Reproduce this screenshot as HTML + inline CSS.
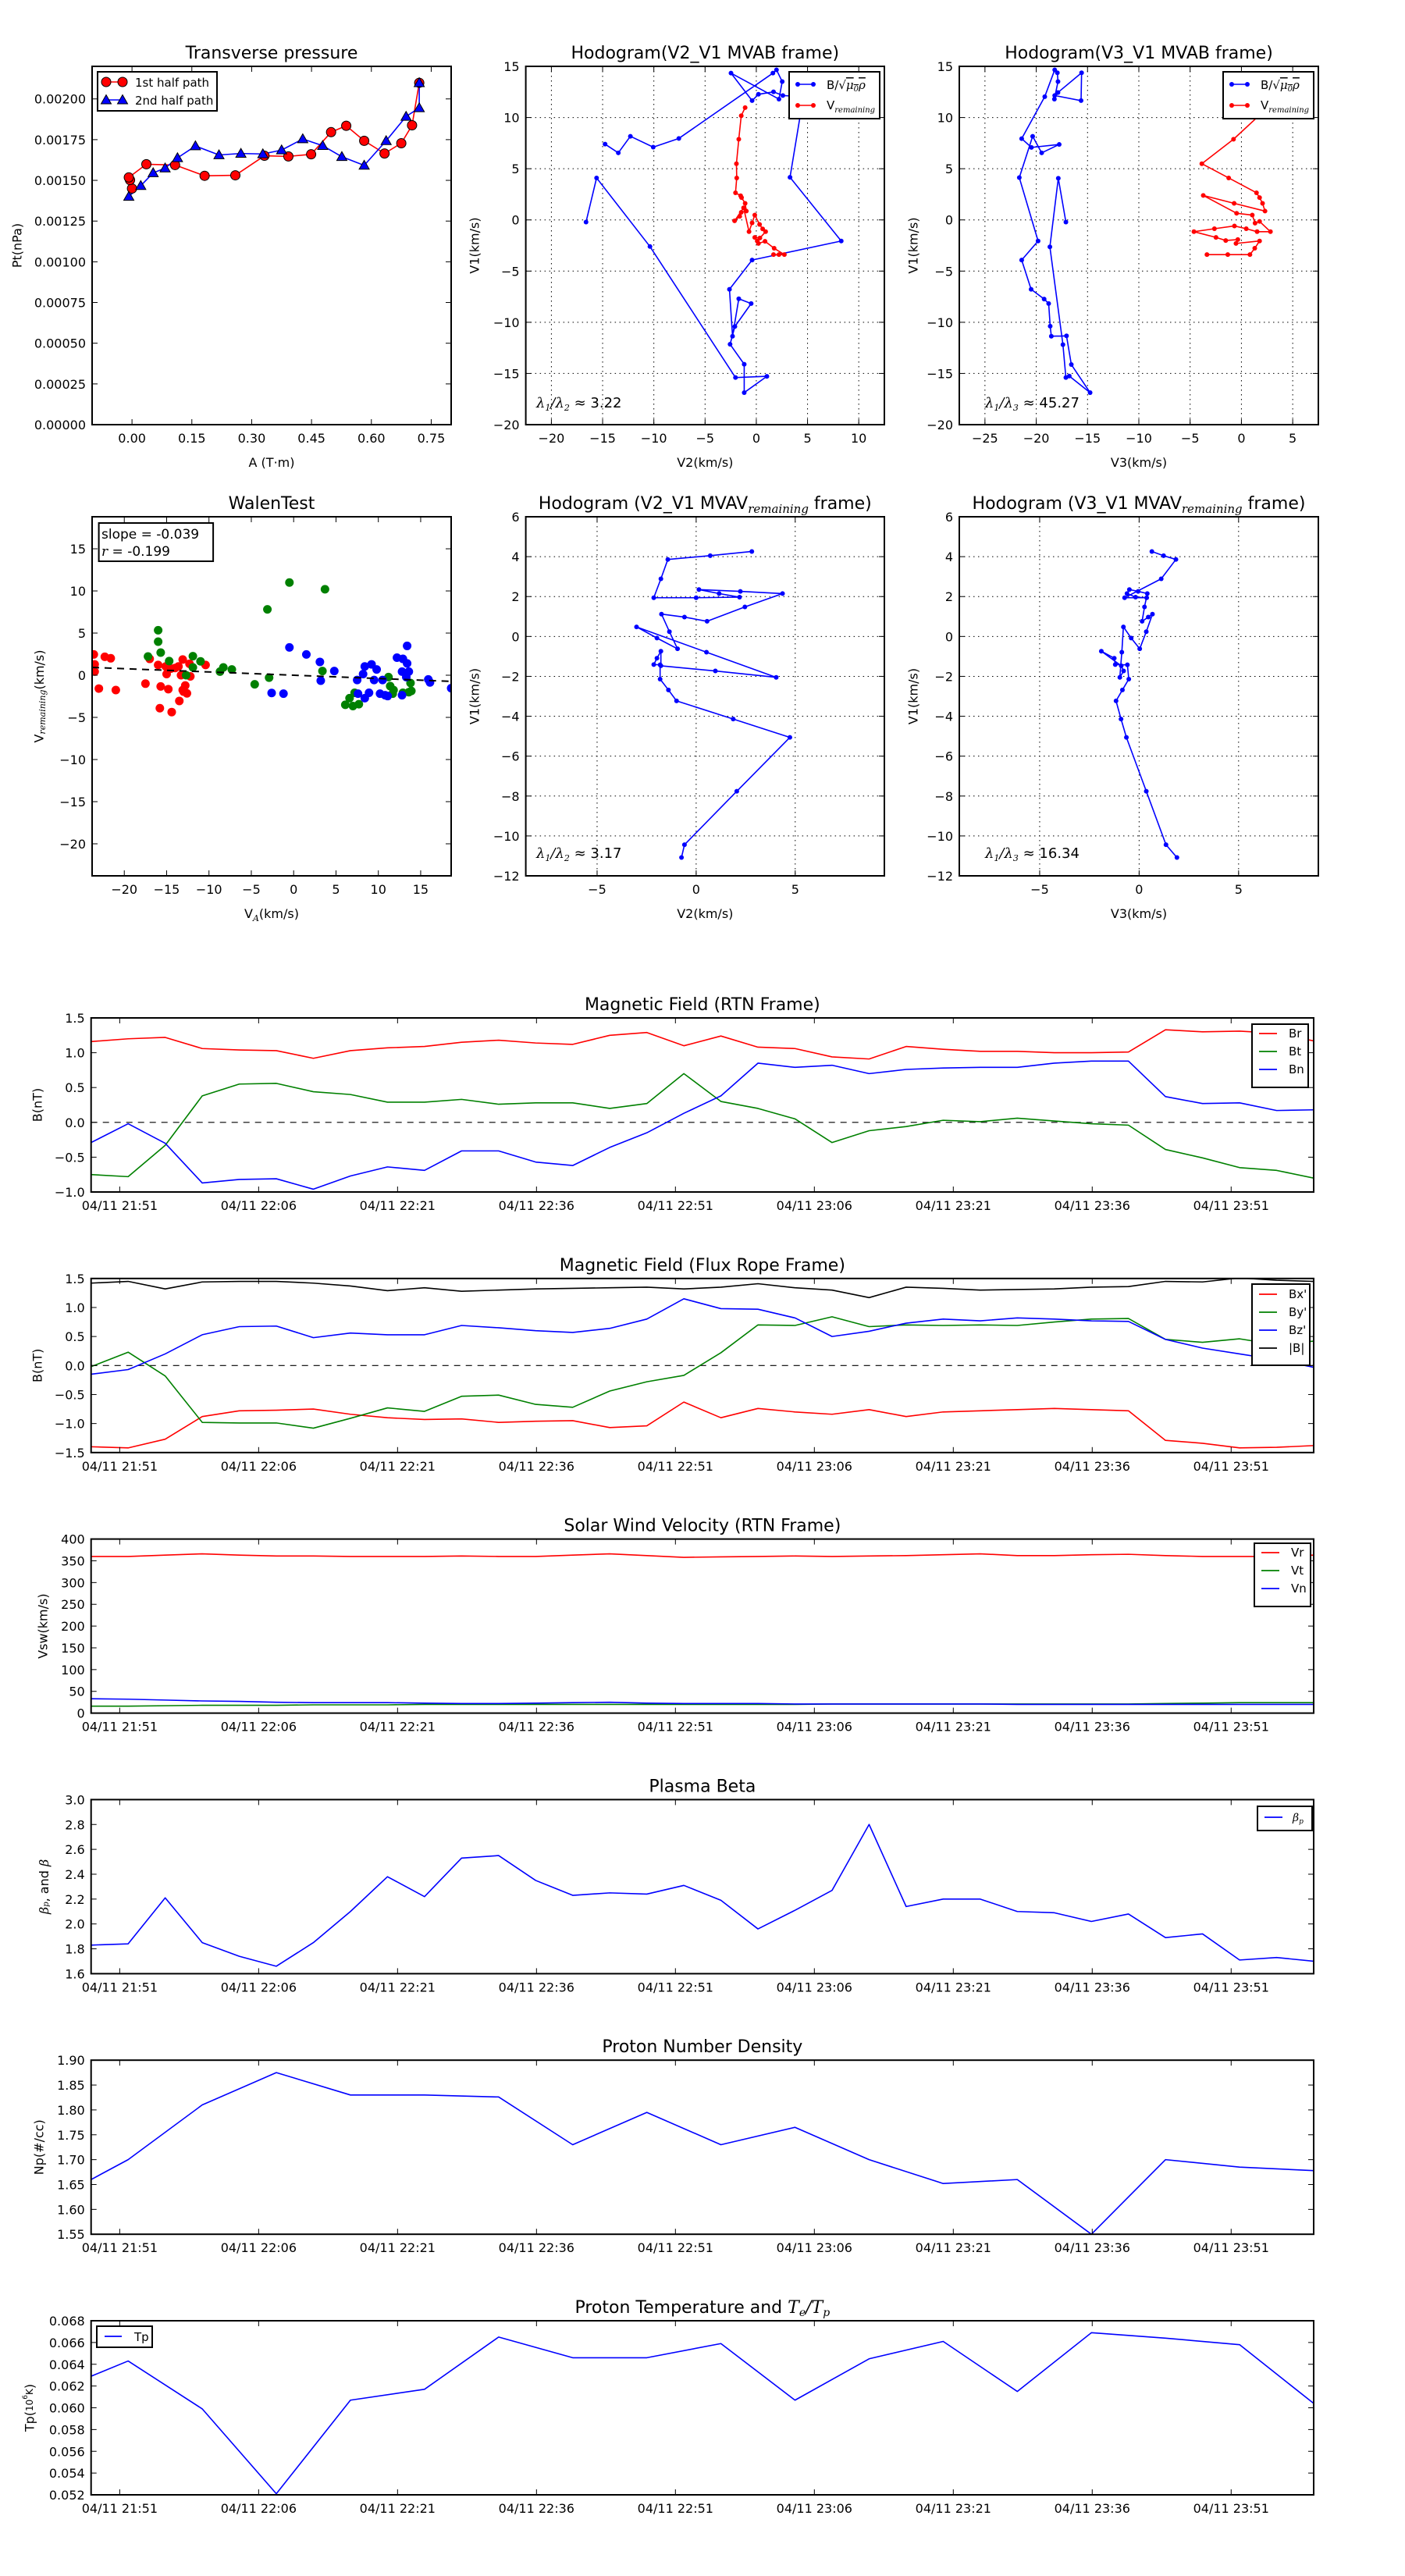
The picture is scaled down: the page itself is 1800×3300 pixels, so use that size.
<!DOCTYPE html>
<html>
<head>
<meta charset="utf-8">
<title>Flux rope analysis figure</title>
<style>
html,body{margin:0;padding:0;background:#fff;}
svg{display:block;font-family:"DejaVu Sans","Liberation Sans",sans-serif;}
.m{font-family:"DejaVu Serif","Liberation Serif",serif;font-style:italic;}
</style>
</head>
<body>
<svg id="fig" xmlns="http://www.w3.org/2000/svg" width="1800" height="3300" viewBox="0 0 1800 3300">
<rect x="0" y="0" width="1800" height="3300" fill="#fff"/>
</svg>
<script>
// ---------------- DATA ----------------
// Transverse pressure
const tpA1 = [0.000,-0.005,-0.008,0.036,0.108,0.182,0.259,0.332,0.392,0.449,0.499,0.537,0.582,0.633,0.675,0.702,0.720];
const tpP1 = [0.001450,0.001502,0.001518,0.001599,0.001594,0.001528,0.001531,0.001651,0.001647,0.001660,0.001796,0.001835,0.001743,0.001665,0.001728,0.001838,0.002099];
const tpA2 = [-0.008,0.022,0.053,0.083,0.114,0.159,0.218,0.273,0.328,0.375,0.428,0.478,0.526,0.582,0.637,0.687,0.720,0.720];
const tpP2 = [0.001401,0.001467,0.001546,0.001575,0.001638,0.001711,0.001656,0.001665,0.001662,0.001686,0.001754,0.001713,0.001645,0.001592,0.001743,0.001892,0.001945,0.002099];
const tpXTicks = [0,0.15,0.30,0.45,0.60,0.75];
const tpXLabels = ["0.00","0.15","0.30","0.45","0.60","0.75"];
const tpYTicks = [0,0.00025,0.0005,0.00075,0.001,0.00125,0.0015,0.00175,0.002];
const tpYLabels = ["0.00000","0.00025","0.00050","0.00075","0.00100","0.00125","0.00150","0.00175","0.00200"];

// Hodogram V2-V1 MVAB
const h2BV2 = [-16.62,-15.59,-10.38,-2.03,1.03,-1.18,-1.18,-2.56,-2.09,-0.50,-1.71,-2.32,-2.62,-0.41,8.29,3.29,4.26,3.68,2.59,1.68,0.21,-0.41,-2.47,2.21,2.53,1.97,1.62,-7.56,-10.06,-12.29,-13.47,-14.76];
const h2BV1 = [-0.21,4.10,-2.60,-15.40,-15.28,-16.87,-14.10,-12.15,-10.41,-8.17,-7.70,-11.36,-6.78,-3.92,-2.06,4.16,10.03,12.09,12.15,12.51,12.27,11.65,14.34,11.80,13.51,14.66,14.34,7.96,7.11,8.17,6.55,7.40];
const h2RV2 = [-1.09,-1.47,-1.71,-1.94,-1.91,-2.03,-1.53,-1.44,-1.09,-0.97,-1.47,-1.62,-2.12,-1.24,-0.71,-0.41,-0.15,0.32,0.62,0.91,0.35,-0.15,0.09,0.21,0.85,1.74,2.74,2.21,1.68];
const h2RV1 = [10.97,10.18,7.88,5.49,4.10,2.65,2.36,2.18,1.62,0.86,0.74,0.35,-0.09,1.18,-1.15,-0.29,0.47,-0.44,-0.88,-1.15,-1.77,-1.71,-2.06,-2.30,-2.09,-2.77,-3.39,-3.39,-3.39];

// Hodogram V3-V1 MVAB
const h3BV3 = [-17.11,-17.85,-18.67,-17.40,-17.11,-16.78,-14.75,-16.58,-17.05,-18.53,-18.64,-18.79,-19.23,-20.50,-21.42,-19.82,-21.65,-20.35,-19.47,-17.76,-20.47,-21.42,-19.17,-18.20,-17.94,-17.88,-18.23,-17.88,-15.58,-15.63,-18.20];
const h3BV1 = [-0.21,4.07,-2.63,-12.18,-15.40,-15.25,-16.87,-14.13,-11.33,-11.36,-10.38,-8.17,-7.73,-6.78,-3.92,-2.06,4.13,8.17,6.55,7.37,7.08,7.94,12.04,14.66,14.37,13.51,11.80,12.45,14.37,11.65,12.15];
const h3RV3 = [2.65,-0.77,-3.86,-1.24,1.47,1.77,2.06,2.30,-0.71,-3.72,-0.47,1.06,1.33,1.77,2.83,1.53,0.47,-0.68,-2.63,-4.63,-2.48,-1.53,-0.35,-0.53,1.77,1.30,0.83,-1.33,-3.36];
const h3RV1 = [11.06,7.88,5.49,4.10,2.65,2.18,1.62,0.86,1.62,2.39,0.65,0.47,-0.32,-0.15,-1.15,-1.15,-0.86,-0.59,-0.86,-1.15,-1.71,-2.01,-1.92,-2.30,-2.06,-2.77,-3.39,-3.39,-3.39];

// Walen test
const wRedX = [-23.6,-23.5,-23.5,-23.0,-22.3,-21.6,-21.0,-17.5,-17.0,-16.0,-15.7,-15.8,-15.1,-15.0,-14.8,-14.4,-14.0,-13.5,-13.3,-13.1,-13.1,-12.8,-12.6,-12.3,-12.2,-10.4,-14.5,-13.6,-13.0];
const wRedY = [2.47,1.29,0.43,-1.58,2.19,2.01,-1.76,-1.00,1.94,1.22,-1.33,-3.91,1.04,0.14,-1.65,-4.37,0.86,-3.05,0.00,1.86,-1.76,-1.22,-2.15,1.36,-0.14,1.22,0.79,1.04,-1.94];
const wGreenX = [-17.2,-16.0,-16.0,-15.7,-14.7,-12.7,-11.9,-11.9,-11.0,-8.7,-8.3,-7.3,-4.6,-3.1,-2.9,-0.5,3.4,3.7,6.1,6.6,7.0,7.2,7.7,11.2,11.4,11.7,11.8,12.9,13.8,13.9,13.6];
const wGreenY = [2.22,5.34,3.98,2.69,1.68,0.00,2.26,0.93,1.65,0.43,0.93,0.68,-1.08,7.81,-0.29,11.0,0.50,10.2,-3.51,-2.72,-3.66,-2.08,-3.44,-0.22,-1.29,-2.19,-1.76,-2.08,-0.93,-1.86,-2.01];
const wBlueX = [-2.6,-1.2,-0.5,1.5,3.1,3.2,4.8,7.5,7.6,8.2,8.4,8.4,8.9,9.2,9.5,9.8,10.2,10.5,10.8,11.1,12.2,12.9,12.8,12.8,13.4,13.4,13.6,13.3,15.9,16.1,18.6];
const wBlueY = [-2.11,-2.19,3.30,2.47,1.58,-0.65,0.50,-0.57,-2.19,0.14,-2.72,1.04,-2.08,1.29,-0.57,0.68,-2.19,-0.57,-2.37,-2.47,2.08,1.94,-2.37,0.43,1.40,3.48,0.43,-0.22,-0.50,-0.86,-1.54];
const wSlope = -0.039;
const wIntercept = 0.0;
const wTicks = [-20,-15,-10,-5,0,5,10,15];
const wTickLabels = ["\u221220","\u221215","\u221210","\u22125","0","5","10","15"];

// Hodograms MVAV (remaining)
const mvV1 = [-11.08,-10.44,-7.76,-5.06,-4.14,-3.23,-2.68,-2.14,-1.42,-1.41,-1.09,-0.74,-1.47,-1.73,-2.05,-0.79,0.48,-0.08,-0.62,0.24,1.12,0.97,0.76,1.48,2.15,2.26,2.35,2.15,1.97,1.94,1.94,2.89,3.86,4.05,4.26];
const mvV2 = [-0.74,-0.59,2.05,4.73,1.87,-0.99,-1.40,-1.82,-1.82,-2.14,-1.98,-1.78,-1.78,0.97,4.04,0.52,-3.01,-1.98,-0.94,-1.35,-1.75,-0.59,0.55,2.46,4.36,2.23,0.14,1.16,2.19,0.00,-2.14,-1.78,-1.43,0.71,2.81];
const mvV3 = [1.90,1.35,0.36,-0.64,-0.91,-1.16,-0.84,-0.52,-0.59,-1.20,-1.25,-1.90,-0.90,-0.78,-0.97,-0.87,-0.79,-0.40,0.03,0.36,0.67,0.46,0.15,0.27,0.41,-0.05,-0.49,-0.61,-0.18,0.38,-0.73,1.11,1.85,1.23,0.64];

// Time series (4-min cadence, 34 samples)
const timeTickLabels = ["04/11 21:51","04/11 22:06","04/11 22:21","04/11 22:36","04/11 22:51","04/11 23:06","04/11 23:21","04/11 23:36","04/11 23:51"];
const timeTickMinutes = [0,15,30,45,60,75,90,105,120];
const Br = [1.16,1.20,1.22,1.06,1.04,1.03,0.92,1.03,1.07,1.09,1.15,1.18,1.14,1.12,1.25,1.29,1.10,1.24,1.08,1.06,0.94,0.91,1.09,1.05,1.02,1.02,1.00,1.00,1.01,1.33,1.30,1.31,1.28,1.17];
const Bt = [-0.75,-0.78,-0.33,0.38,0.55,0.56,0.44,0.40,0.29,0.29,0.33,0.26,0.28,0.28,0.20,0.27,0.70,0.30,0.20,0.05,-0.29,-0.12,-0.06,0.03,0.01,0.06,0.02,-0.02,-0.04,-0.39,-0.51,-0.65,-0.69,-0.80];
const Bn = [-0.29,-0.02,-0.30,-0.87,-0.82,-0.81,-0.96,-0.77,-0.64,-0.69,-0.41,-0.41,-0.57,-0.62,-0.36,-0.15,0.13,0.38,0.85,0.79,0.82,0.70,0.76,0.78,0.79,0.79,0.85,0.88,0.88,0.37,0.27,0.28,0.17,0.18];
const Bx = [-1.40,-1.42,-1.27,-0.88,-0.78,-0.77,-0.75,-0.84,-0.90,-0.93,-0.92,-0.98,-0.96,-0.95,-1.07,-1.04,-0.63,-0.90,-0.74,-0.80,-0.84,-0.76,-0.88,-0.80,-0.78,-0.76,-0.74,-0.76,-0.78,-1.29,-1.34,-1.42,-1.41,-1.38];
const By = [-0.02,0.23,-0.18,-0.98,-0.99,-0.99,-1.08,-0.91,-0.73,-0.79,-0.53,-0.51,-0.67,-0.72,-0.44,-0.28,-0.17,0.22,0.70,0.69,0.84,0.67,0.70,0.69,0.70,0.69,0.75,0.80,0.81,0.45,0.40,0.46,0.36,0.42];
const Bz = [-0.15,-0.07,0.20,0.53,0.67,0.68,0.48,0.56,0.53,0.53,0.69,0.65,0.60,0.57,0.64,0.80,1.15,0.98,0.97,0.82,0.50,0.59,0.73,0.80,0.77,0.82,0.80,0.77,0.76,0.45,0.30,0.20,0.10,-0.03];
const Bmag = [1.42,1.45,1.32,1.44,1.45,1.45,1.42,1.37,1.29,1.34,1.28,1.30,1.32,1.33,1.34,1.35,1.32,1.35,1.41,1.34,1.30,1.17,1.35,1.33,1.30,1.31,1.32,1.35,1.36,1.45,1.44,1.51,1.47,1.45];
const Vr = [360,360,363,366,363,361,361,360,360,360,361,360,360,363,366,362,358,359,360,361,360,361,362,364,366,362,362,364,365,362,360,360,360,363];
const Vt = [16,16,17,18,18,18,19,19,19,20,20,20,20,20,20,20,20,20,20,20,21,21,21,21,21,21,21,21,21,22,23,24,24,24];
const Vn = [33,32,30,28,27,25,24,24,24,23,22,22,23,24,25,23,22,22,22,21,21,21,21,21,21,20,20,20,20,20,20,20,20,20];
const betaP = [1.83,1.84,2.21,1.85,1.74,1.66,1.85,2.10,2.38,2.22,2.53,2.55,2.35,2.23,2.25,2.24,2.31,2.19,1.96,2.11,2.27,2.80,2.14,2.20,2.20,2.10,2.09,2.02,2.08,1.89,1.92,1.71,1.73,1.70];
const slowIdx = [0,1,3,5,7,9,11,13,15,17,19,21,23,25,27,29,31,33];
const Np = [1.66,1.70,1.81,1.875,1.83,1.83,1.826,1.73,1.795,1.73,1.765,1.70,1.652,1.66,1.55,1.70,1.685,1.678];
const Tp = [0.0629,0.0643,0.0599,0.0521,0.0607,0.0617,0.0665,0.0646,0.0646,0.0659,0.0607,0.0645,0.0661,0.0615,0.0669,0.0664,0.0658,0.0604];

// ---------------- DRAWING ----------------
const NS = 'http://www.w3.org/2000/svg';
const svg = document.getElementById('fig');
let clipN = 0;

function el(tag, parent, name, inter) {
  const e = document.createElementNS(NS, tag);
  
  
  parent.appendChild(e);
  return e;
}
function set(e, a) { for (const k in a) e.setAttribute(k, a[k]); return e; }
function txt(parent, name, x, y, html, size, anchor, extra) {
  const t = el('text', parent, name, false);
  set(t, {x: x, y: y, 'font-size': size, 'text-anchor': anchor || 'middle', fill: '#000'});
  if (extra) set(t, extra);
  t.innerHTML = html;
  return t;
}

function axes(o) {
  const g = el('g', svg, o.name, false);
  const sx = v => o.L + (v - o.xmin) / (o.xmax - o.xmin) * (o.R - o.L);
  const sy = v => o.B - (v - o.ymin) / (o.ymax - o.ymin) * (o.B - o.T);
  const cid = 'clip' + (clipN++);
  const cp = el('clipPath', g, 'plot-clip', false);
  cp.setAttribute('id', cid);
  const cr = el('rect', cp, 'plot-clip-rect', false);
  set(cr, {x: o.L, y: o.T, width: o.R - o.L, height: o.B - o.T});
  // grid
  if (o.grid) {
    o.xt.forEach(v => {
      const l = el('line', g, 'grid-line-x', false);
      set(l, {x1: sx(v), x2: sx(v), y1: o.T, y2: o.B, stroke: '#000', 'stroke-width': 1, 'stroke-dasharray': '1.5,4.5'});
    });
    o.yt.forEach(v => {
      const l = el('line', g, 'grid-line-y', false);
      set(l, {x1: o.L, x2: o.R, y1: sy(v), y2: sy(v), stroke: '#000', 'stroke-width': 1, 'stroke-dasharray': '1.5,4.5'});
    });
  }
  const plot = el('g', g, 'plot-area', false);
  plot.setAttribute('clip-path', 'url(#' + cid + ')');
  // ticks
  const tk = el('g', g, 'ticks', false);
  o.xt.forEach((v, i) => {
    const x = sx(v);
    const a = el('line', tk, 'x-tick', false);
    set(a, {x1: x, x2: x, y1: o.B, y2: o.B - 7, stroke: '#000', 'stroke-width': 1});
    const b = el('line', tk, 'x-tick-top', false);
    set(b, {x1: x, x2: x, y1: o.T, y2: o.T + 7, stroke: '#000', 'stroke-width': 1});
    txt(tk, 'x-tick-label', x, o.B + 23, o.xtl[i], 16, 'middle');
  });
  o.yt.forEach((v, i) => {
    const y = sy(v);
    const a = el('line', tk, 'y-tick', false);
    set(a, {x1: o.L, x2: o.L + 7, y1: y, y2: y, stroke: '#000', 'stroke-width': 1});
    const b = el('line', tk, 'y-tick-right', false);
    set(b, {x1: o.R, x2: o.R - 7, y1: y, y2: y, stroke: '#000', 'stroke-width': 1});
    txt(tk, 'y-tick-label', o.L - 8, y + 6, o.ytl[i], 16, 'end');
  });
  if (o.title) txt(g, 'chart-title', (o.L + o.R) / 2, o.T - 10, o.title, 22, 'middle');
  if (o.xlabel) txt(g, 'x-axis-title', (o.L + o.R) / 2, o.B + 54, o.xlabel, 16, 'middle');
  if (o.ylabel) {
    const cy = (o.T + o.B) / 2;
    txt(g, 'y-axis-title', o.ylx, cy, o.ylabel, 16, 'middle', {transform: 'rotate(-90 ' + o.ylx + ' ' + cy + ')', 'dominant-baseline': 'central'});
  }
  const frame = () => {
    const r = el('rect', g, 'axes-frame', false);
    set(r, {x: o.L, y: o.T, width: o.R - o.L, height: o.B - o.T, fill: 'none', stroke: '#000', 'stroke-width': 2});
  };
  return {g, plot, sx, sy, frame};
}

function line(ax, xs, ys, color, name, w, dash) {
  const p = el('polyline', ax.plot, name, false);
  set(p, {points: xs.map((x, i) => ax.sx(x) + ',' + ax.sy(ys[i])).join(' '), fill: 'none', stroke: color, 'stroke-width': w || 1.6, 'stroke-linejoin': 'round'});
  if (dash) p.setAttribute('stroke-dasharray', dash);
  return p;
}
function dots(ax, xs, ys, color, name, r, edge) {
  xs.forEach((x, i) => {
    const c = el('circle', ax.plot, name, false);
    set(c, {cx: ax.sx(x), cy: ax.sy(ys[i]), r: r, fill: color});
    if (edge) set(c, {stroke: '#000', 'stroke-width': 1});
  });
}
function tris(ax, xs, ys, color, name, s) {
  xs.forEach((x, i) => {
    const cx = ax.sx(x), cy = ax.sy(ys[i]);
    const p = el('polygon', ax.plot, name, false);
    set(p, {points: cx + ',' + (cy - s) + ' ' + (cx - s) + ',' + (cy + s * 0.75) + ' ' + (cx + s) + ',' + (cy + s * 0.75), fill: color, stroke: '#000', 'stroke-width': 1});
  });
}
function legendBox(parent, x, y, w, h) {
  const r = el('rect', parent, 'legend-box', false);
  set(r, {x: x, y: y, width: w, height: h, fill: '#fff', stroke: '#000', 'stroke-width': 2});
}

// ===== Transverse pressure =====
(function () {
  const ax = axes({name: 'transverse-pressure-chart', L: 118, R: 578, T: 85, B: 544, xmin: -0.1, xmax: 0.8, ymin: 0, ymax: 0.0022,
    xt: tpXTicks, xtl: tpXLabels, yt: tpYTicks, ytl: tpYLabels, title: 'Transverse pressure', xlabel: 'A (T\u00b7m)', ylabel: 'Pt(nPa)', ylx: 22});
  line(ax, tpA1, tpP1, '#ff0000', 'first-half-path-line');
  line(ax, tpA2, tpP2, '#0000ff', 'second-half-path-line');
  dots(ax, tpA1, tpP1, '#ff0000', 'first-half-marker', 6, true);
  tris(ax, tpA2, tpP2, '#0000ff', 'second-half-marker', 6.5);
  ax.frame();
  const lg = el('g', ax.g, 'legend', false);
  legendBox(lg, 125, 92, 153, 50);
  const l1 = el('line', lg, 'legend-line-first', false);
  set(l1, {x1: 136, x2: 157, y1: 105, y2: 105, stroke: '#ff0000', 'stroke-width': 1.6});
  [136, 157].forEach(x => { const c = el('circle', lg, 'legend-marker-first', false); set(c, {cx: x, cy: 105, r: 6, fill: '#ff0000', stroke: '#000', 'stroke-width': 1}); });
  txt(lg, 'legend-label-first', 173, 111, '1st half path', 15, 'start');
  const l2 = el('line', lg, 'legend-line-second', false);
  set(l2, {x1: 136, x2: 157, y1: 128, y2: 128, stroke: '#0000ff', 'stroke-width': 1.6});
  [136, 157].forEach(x => { const p = el('polygon', lg, 'legend-marker-second', false); set(p, {points: x + ',' + 121.5 + ' ' + (x - 6.5) + ',' + 133 + ' ' + (x + 6.5) + ',' + 133, fill: '#0000ff', stroke: '#000', 'stroke-width': 1}); });
  txt(lg, 'legend-label-second', 173, 134, '2nd half path', 15, 'start');
})();

const B_LABEL = 'B/\u221a<tspan class="m" text-decoration="overline">\u03bc<tspan font-size="10" dy="3">0</tspan><tspan dy="-3">\u03c1</tspan></tspan>';
const VREM = 'V<tspan class="m" font-size="10" dy="4">remaining</tspan>';

function hodoLegend(parent, x0) {
  const lg = el('g', parent, 'legend', false);
  legendBox(lg, x0, 92, 116, 60);
  const l1 = el('line', lg, 'legend-line-b', false);
  set(l1, {x1: x0 + 11, x2: x0 + 31, y1: 108, y2: 108, stroke: '#0000ff', 'stroke-width': 1.6});
  [x0 + 11, x0 + 31].forEach(x => { const c = el('circle', lg, 'legend-marker-b', false); set(c, {cx: x, cy: 108, r: 3, fill: '#0000ff'}); });
  txt(lg, 'legend-label-b', x0 + 48, 114, B_LABEL, 15, 'start');
  const l2 = el('line', lg, 'legend-line-v', false);
  set(l2, {x1: x0 + 11, x2: x0 + 31, y1: 135, y2: 135, stroke: '#ff0000', 'stroke-width': 1.6});
  [x0 + 11, x0 + 31].forEach(x => { const c = el('circle', lg, 'legend-marker-v', false); set(c, {cx: x, cy: 135, r: 3, fill: '#ff0000'}); });
  txt(lg, 'legend-label-v', x0 + 48, 140, VREM, 15, 'start');
}

// ===== Hodogram V2_V1 MVAB =====
(function () {
  const ax = axes({name: 'hodogram-v2-v1-mvab', L: 673.6, R: 1133, T: 85, B: 544, xmin: -22.5, xmax: 12.5, ymin: -20, ymax: 15, grid: true,
    xt: [-20, -15, -10, -5, 0, 5, 10], xtl: ['\u221220', '\u221215', '\u221210', '\u22125', '0', '5', '10'],
    yt: [-20, -15, -10, -5, 0, 5, 10, 15], ytl: ['\u221220', '\u221215', '\u221210', '\u22125', '0', '5', '10', '15'],
    title: 'Hodogram(V2_V1 MVAB frame)', xlabel: 'V2(km/s)', ylabel: 'V1(km/s)', ylx: 608});
  line(ax, h2BV2, h2BV1, '#0000ff', 'b-hodogram-line');
  dots(ax, h2BV2, h2BV1, '#0000ff', 'b-hodogram-point', 3);
  line(ax, h2RV2, h2RV1, '#ff0000', 'v-remaining-line');
  dots(ax, h2RV2, h2RV1, '#ff0000', 'v-remaining-point', 3);
  ax.frame();
  hodoLegend(ax.g, 1011);
  txt(ax.g, 'eigenvalue-ratio', 687, 522, '<tspan class="m">\u03bb<tspan font-size="11" dy="4">1</tspan><tspan dy="-4">/\u03bb</tspan><tspan font-size="11" dy="4">2</tspan></tspan><tspan dy="-4"> \u2248 3.22</tspan>', 18, 'start');
})();

// ===== Hodogram V3_V1 MVAB =====
(function () {
  const ax = axes({name: 'hodogram-v3-v1-mvab', L: 1229, R: 1689, T: 85, B: 544, xmin: -27.5, xmax: 7.5, ymin: -20, ymax: 15, grid: true,
    xt: [-25, -20, -15, -10, -5, 0, 5], xtl: ['\u221225', '\u221220', '\u221215', '\u221210', '\u22125', '0', '5'],
    yt: [-20, -15, -10, -5, 0, 5, 10, 15], ytl: ['\u221220', '\u221215', '\u221210', '\u22125', '0', '5', '10', '15'],
    title: 'Hodogram(V3_V1 MVAB frame)', xlabel: 'V3(km/s)', ylabel: 'V1(km/s)', ylx: 1170});
  line(ax, h3BV3, h3BV1, '#0000ff', 'b-hodogram-line');
  dots(ax, h3BV3, h3BV1, '#0000ff', 'b-hodogram-point', 3);
  line(ax, h3RV3, h3RV1, '#ff0000', 'v-remaining-line');
  dots(ax, h3RV3, h3RV1, '#ff0000', 'v-remaining-point', 3);
  ax.frame();
  hodoLegend(ax.g, 1567);
  txt(ax.g, 'eigenvalue-ratio', 1262, 522, '<tspan class="m">\u03bb<tspan font-size="11" dy="4">1</tspan><tspan dy="-4">/\u03bb</tspan><tspan font-size="11" dy="4">3</tspan></tspan><tspan dy="-4"> \u2248 45.27</tspan>', 18, 'start');
})();

// ===== Walen test =====
(function () {
  const ax = axes({name: 'walen-test-chart', L: 118, R: 578, T: 662, B: 1122, xmin: -23.8, xmax: 18.6, ymin: -23.8, ymax: 18.8,
    xt: wTicks, xtl: wTickLabels, yt: wTicks, ytl: wTickLabels,
    title: 'WalenTest', xlabel: 'V<tspan class="m" font-size="11" dy="4">A</tspan><tspan dy="-4">(km/s)</tspan>',
    ylabel: 'V<tspan class="m" font-size="11" dy="4">remaining</tspan><tspan dy="-4">(km/s)</tspan>', ylx: 50});
  dots(ax, wRedX, wRedY, '#ff0000', 'walen-point-red', 5.5);
  dots(ax, wGreenX, wGreenY, '#008000', 'walen-point-green', 5.5);
  dots(ax, wBlueX, wBlueY, '#0000ff', 'walen-point-blue', 5.5);
  const fx = [ax.sx.length ? -23.8 : -23.8, 18.6];
  line(ax, fx, fx.map(x => wSlope * x + wIntercept), '#000', 'fit-line', 2, '9,7');
  ax.frame();
  const lg = el('g', ax.g, 'fit-annotation', false);
  legendBox(lg, 126.6, 670, 146.5, 49);
  txt(lg, 'slope-text', 130, 690, 'slope = -0.039', 17, 'start');
  txt(lg, 'r-text', 130, 712, '<tspan class="m">r</tspan> = -0.199', 17, 'start');
})();

// ===== MVAV hodograms =====
(function () {
  const ax = axes({name: 'hodogram-v2-v1-mvav', L: 673.6, R: 1133, T: 662, B: 1122, xmin: -8.6, xmax: 9.5, ymin: -12, ymax: 6, grid: true,
    xt: [-5, 0, 5], xtl: ['\u22125', '0', '5'],
    yt: [-12, -10, -8, -6, -4, -2, 0, 2, 4, 6], ytl: ['\u221212', '\u221210', '\u22128', '\u22126', '\u22124', '\u22122', '0', '2', '4', '6'],
    title: 'Hodogram (V2_V1 MVAV<tspan class="m" font-size="15" dy="5">remaining</tspan><tspan dy="-5"> frame)</tspan>',
    xlabel: 'V2(km/s)', ylabel: 'V1(km/s)', ylx: 608});
  line(ax, mvV2, mvV1, '#0000ff', 'mvav-hodogram-line');
  dots(ax, mvV2, mvV1, '#0000ff', 'mvav-hodogram-point', 3);
  ax.frame();
  txt(ax.g, 'eigenvalue-ratio', 687, 1099, '<tspan class="m">\u03bb<tspan font-size="11" dy="4">1</tspan><tspan dy="-4">/\u03bb</tspan><tspan font-size="11" dy="4">2</tspan></tspan><tspan dy="-4"> \u2248 3.17</tspan>', 18, 'start');
})();
(function () {
  const ax = axes({name: 'hodogram-v3-v1-mvav', L: 1229, R: 1689, T: 662, B: 1122, xmin: -9.04, xmax: 9.01, ymin: -12, ymax: 6, grid: true,
    xt: [-5, 0, 5], xtl: ['\u22125', '0', '5'],
    yt: [-12, -10, -8, -6, -4, -2, 0, 2, 4, 6], ytl: ['\u221212', '\u221210', '\u22128', '\u22126', '\u22124', '\u22122', '0', '2', '4', '6'],
    title: 'Hodogram (V3_V1 MVAV<tspan class="m" font-size="15" dy="5">remaining</tspan><tspan dy="-5"> frame)</tspan>',
    xlabel: 'V3(km/s)', ylabel: 'V1(km/s)', ylx: 1170});
  line(ax, mvV3, mvV1, '#0000ff', 'mvav-hodogram-line');
  dots(ax, mvV3, mvV1, '#0000ff', 'mvav-hodogram-point', 3);
  ax.frame();
  txt(ax.g, 'eigenvalue-ratio', 1262, 1099, '<tspan class="m">\u03bb<tspan font-size="11" dy="4">1</tspan><tspan dy="-4">/\u03bb</tspan><tspan font-size="11" dy="4">3</tspan></tspan><tspan dy="-4"> \u2248 16.34</tspan>', 18, 'start');
})();

// ===== Time series panels =====
const T_LEFT = -3.09, T_STEP = 4.0; // minutes relative to 21:51
const T_RIGHT = T_LEFT + 33 * T_STEP;
const idxAll = Br.map((_, i) => i);
const tOf = i => T_LEFT + i * T_STEP;

function tsPanel(k, o) {
  const T = 1304 + k * 333.8;
  return axes(Object.assign({L: 116.7, R: 1683, T: T, B: T + 223, xmin: T_LEFT, xmax: T_RIGHT,
    xt: timeTickMinutes, xtl: timeTickLabels}, o));
}
function tsLegend(parent, x, y, w, rows, names, colors) {
  const lg = el('g', parent, 'legend', false);
  legendBox(lg, x, y, w, rows.length * 23 + 12);
  rows.forEach((ry, i) => {
    const l = el('line', lg, 'legend-line', false);
    set(l, {x1: x + 9, x2: x + 32, y1: ry, y2: ry, stroke: colors[i], 'stroke-width': 1.8});
    txt(lg, 'legend-label', x + 47, ry + 5, names[i], 15, 'start');
  });
}
function zeroLine(ax) {
  const l = el('line', ax.plot, 'zero-line', false);
  set(l, {x1: ax.sx(T_LEFT), x2: ax.sx(T_RIGHT), y1: ax.sy(0), y2: ax.sy(0), stroke: '#000', 'stroke-width': 1.2, 'stroke-dasharray': '8,7'});
}

(function () {
  const ax = tsPanel(0, {name: 'magnetic-field-rtn-chart', ymin: -1, ymax: 1.5, yt: [-1, -0.5, 0, 0.5, 1, 1.5], ytl: ['\u22121.0', '\u22120.5', '0.0', '0.5', '1.0', '1.5'],
    title: 'Magnetic Field (RTN Frame)', ylabel: 'B(nT)', ylx: 48});
  zeroLine(ax);
  const t = idxAll.map(tOf);
  line(ax, t, Br, '#ff0000', 'br-line');
  line(ax, t, Bt, '#008000', 'bt-line');
  line(ax, t, Bn, '#0000ff', 'bn-line');
  ax.frame();
  tsLegend(ax.g, 1604, 1312, 72, [1324, 1347, 1370], ['Br', 'Bt', 'Bn'], ['#ff0000', '#008000', '#0000ff']);
})();
(function () {
  const ax = tsPanel(1, {name: 'magnetic-field-flux-rope-chart', ymin: -1.5, ymax: 1.5, yt: [-1.5, -1, -0.5, 0, 0.5, 1, 1.5], ytl: ['\u22121.5', '\u22121.0', '\u22120.5', '0.0', '0.5', '1.0', '1.5'],
    title: 'Magnetic Field (Flux Rope Frame)', ylabel: 'B(nT)', ylx: 48});
  zeroLine(ax);
  const t = idxAll.map(tOf);
  line(ax, t, Bmag, '#000000', 'bmag-line');
  line(ax, t, Bx, '#ff0000', 'bx-line');
  line(ax, t, By, '#008000', 'by-line');
  line(ax, t, Bz, '#0000ff', 'bz-line');
  ax.frame();
  tsLegend(ax.g, 1604, 1645, 74, [1658, 1681, 1704, 1727], ["Bx'", "By'", "Bz'", '|B|'], ['#ff0000', '#008000', '#0000ff', '#000000']);
})();
(function () {
  const ax = tsPanel(2, {name: 'solar-wind-velocity-chart', ymin: 0, ymax: 400, yt: [0, 50, 100, 150, 200, 250, 300, 350, 400], ytl: ['0', '50', '100', '150', '200', '250', '300', '350', '400'],
    title: 'Solar Wind Velocity (RTN Frame)', ylabel: 'Vsw(km/s)', ylx: 55});
  const t = idxAll.map(tOf);
  line(ax, t, Vr, '#ff0000', 'vr-line');
  line(ax, t, Vt, '#008000', 'vt-line');
  line(ax, t, Vn, '#0000ff', 'vn-line');
  ax.frame();
  tsLegend(ax.g, 1607, 1977, 72, [1989, 2012, 2035], ['Vr', 'Vt', 'Vn'], ['#ff0000', '#008000', '#0000ff']);
})();
(function () {
  const ax = tsPanel(3, {name: 'plasma-beta-chart', ymin: 1.6, ymax: 3.0, yt: [1.6, 1.8, 2.0, 2.2, 2.4, 2.6, 2.8, 3.0], ytl: ['1.6', '1.8', '2.0', '2.2', '2.4', '2.6', '2.8', '3.0'],
    title: 'Plasma Beta', ylabel: '<tspan class="m">\u03b2<tspan font-size="10" dy="3">p</tspan></tspan><tspan dy="-3">, and </tspan><tspan class="m">\u03b2</tspan>', ylx: 56});
  line(ax, idxAll.map(tOf), betaP, '#0000ff', 'beta-p-line');
  ax.frame();
  const lg = el('g', ax.g, 'legend', false);
  legendBox(lg, 1611, 2314, 70, 31);
  const l = el('line', lg, 'legend-line', false);
  set(l, {x1: 1620, x2: 1643, y1: 2328, y2: 2328, stroke: '#0000ff', 'stroke-width': 1.8});
  txt(lg, 'legend-label', 1656, 2333, '<tspan class="m">\u03b2<tspan font-size="9" dy="3">p</tspan></tspan>', 14, 'start');
})();
(function () {
  const ax = tsPanel(4, {name: 'proton-density-chart', ymin: 1.55, ymax: 1.90, yt: [1.55, 1.60, 1.65, 1.70, 1.75, 1.80, 1.85, 1.90], ytl: ['1.55', '1.60', '1.65', '1.70', '1.75', '1.80', '1.85', '1.90'],
    title: 'Proton Number Density', ylabel: 'Np(#/cc)', ylx: 50});
  line(ax, slowIdx.map(tOf), Np, '#0000ff', 'np-line');
  ax.frame();
})();
(function () {
  const ax = tsPanel(5, {name: 'proton-temperature-chart', ymin: 0.052, ymax: 0.068,
    yt: [0.052, 0.054, 0.056, 0.058, 0.060, 0.062, 0.064, 0.066, 0.068], ytl: ['0.052', '0.054', '0.056', '0.058', '0.060', '0.062', '0.064', '0.066', '0.068'],
    title: 'Proton Temperature and <tspan class="m">T<tspan font-size="14" dy="4">e</tspan><tspan dy="-4">/T</tspan><tspan font-size="14" dy="4">p</tspan></tspan>',
    ylabel: 'Tp(<tspan font-size="12">10<tspan dy="-5" font-size="9">6</tspan><tspan dy="5">K</tspan></tspan>)', ylx: 38});
  line(ax, slowIdx.map(tOf), Tp, '#0000ff', 'tp-line');
  ax.frame();
  const lg = el('g', ax.g, 'legend', false);
  legendBox(lg, 124, 2980, 71, 27);
  const l = el('line', lg, 'legend-line', false);
  set(l, {x1: 134, x2: 156, y1: 2993, y2: 2993, stroke: '#0000ff', 'stroke-width': 1.8});
  txt(lg, 'legend-label', 172, 2999, 'Tp', 15, 'start');
})();
</script>
</body>
</html>
